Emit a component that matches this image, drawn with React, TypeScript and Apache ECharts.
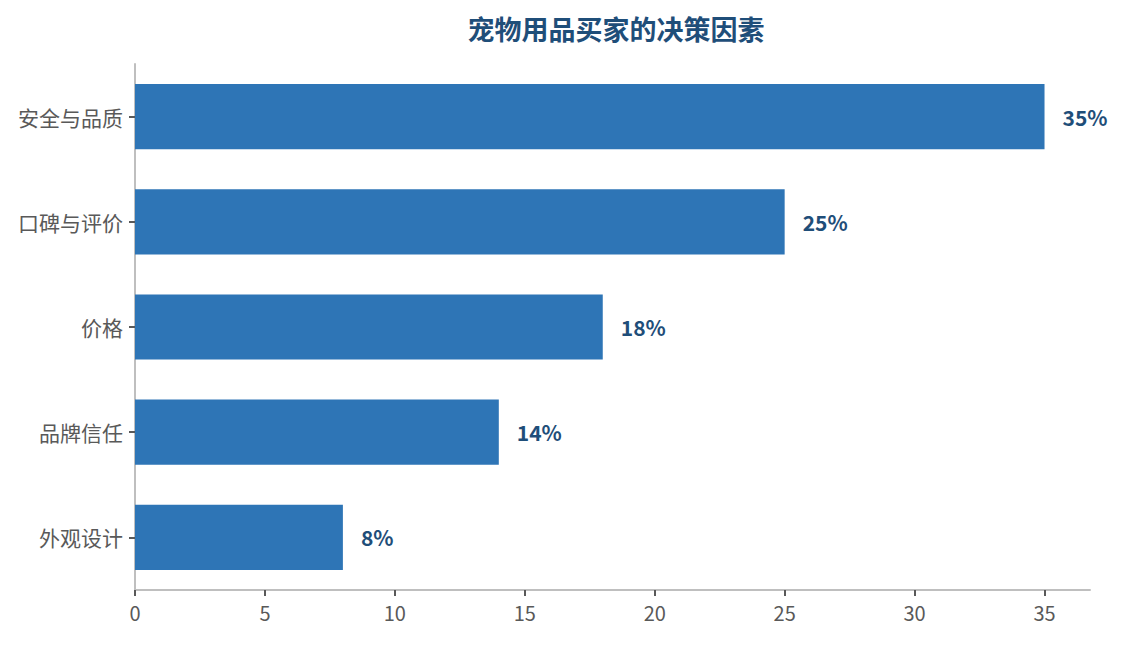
import React, { useEffect, useRef } from "react";
import * as echarts from "echarts";

const categories = ["安全与品质", "口碑与评价", "价格", "品牌信任", "外观设计"];
const shares = [35, 25, 18, 14, 8];

const FONT = '"Noto Sans CJK SC", "Noto Sans", sans-serif';

const App: React.FC = () => {
  const chartRef = useRef<HTMLDivElement>(null);

  useEffect(() => {
    if (!chartRef.current) return;
    const chart = echarts.init(chartRef.current, undefined, { renderer: "svg" });

    const option: echarts.EChartsOption = {
      animation: false,
      textStyle: { fontFamily: FONT },
      title: {
        text: "宠物用品买家的决策因素",
        left: 611,
        textAlign: "center",
        top: 10,
        textStyle: {
          fontFamily: FONT,
          fontSize: 27,
          fontWeight: "bold",
          color: "#1F4E79",
        },
      },
      grid: { left: 135, right: 32, top: 64, bottom: 55 },
      xAxis: {
        type: "value",
        min: 0,
        max: 36.75,
        interval: 5,
        axisLine: { show: true, lineStyle: { color: "#BFBFBF", width: 2 } },
        axisTick: { show: true, length: 6, lineStyle: { color: "#595959", width: 2 } },
        axisLabel: {
          fontSize: 20,
          color: "#595959",
          margin: 12,
          showMaxLabel: false,
          formatter: (v: number) => (v > 35 ? "" : `${v}`),
        },
        splitLine: { show: false },
      },
      yAxis: {
        type: "category",
        inverse: true,
        data: categories,
        axisLine: { show: true, lineStyle: { color: "#BFBFBF", width: 2 } },
        axisTick: { show: true, length: 6, alignWithLabel: true, lineStyle: { color: "#595959", width: 2 } },
        axisLabel: { fontSize: 21, color: "#595959", margin: 12 },
      },
      series: [
        {
          type: "bar",
          data: shares,
          barWidth: "62%",
          itemStyle: { color: "#2E75B6" },
          label: {
            show: true,
            position: "right",
            distance: 18,
            fontSize: 21,
            fontWeight: "bold",
            color: "#1F4E79",
            fontFamily: FONT,
            formatter: (p: any) => `${p.value}%`,
          },
        },
      ],
    };

    chart.setOption(option);
    return () => chart.dispose();
  }, []);

  return (
    <div
      ref={chartRef}
      style={{ position: "fixed", left: 0, top: 0, width: 1122, height: 645, background: "#fff" }}
    />
  );
};

export default App;
